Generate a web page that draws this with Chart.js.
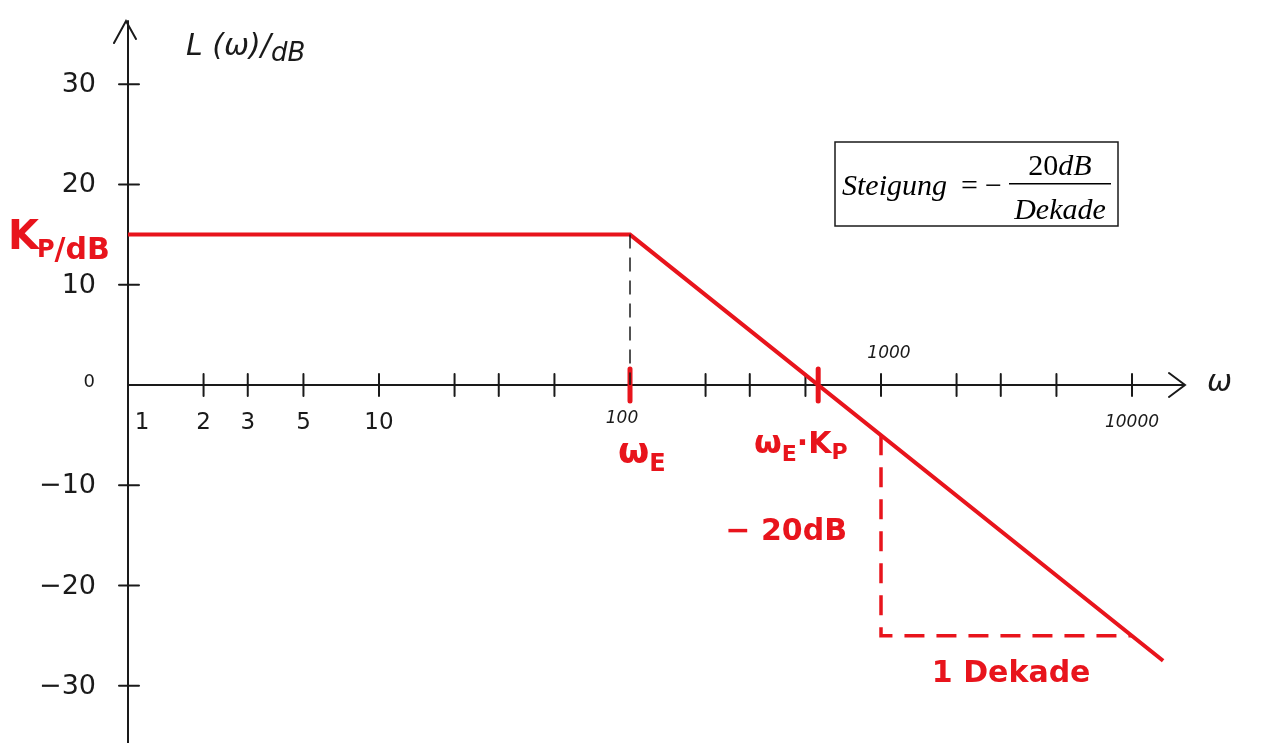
<!DOCTYPE html>
<html>
<head>
<meta charset="utf-8">
<title>Bode-Diagramm PT1</title>
<script src="https://cdn.jsdelivr.net/npm/chart.js@4/dist/chart.umd.min.js"></script>
<style>
  html, body { margin: 0; padding: 0; background: #fff; }
  #wrap { position: relative; width: 1261px; height: 743px; }
</style>
</head>
<body>
<div id="wrap"><canvas id="bode" width="1261" height="743"></canvas></div>
<script>
// Amplitudengang (Asymptoten) eines PT1-Glieds, K_P = 15 dB, w_E = 100
const asymOmega = [1, 100, 13300];
const asymDb = [15, 15, -27.5];

// Steigungsdreieck: 1 Dekade / -20 dB
const triOmega = [1000, 1000, 10000];
const triDb = [-5, -25, -25];

// Hilfslinie bei w_E
const guideOmega = [100, 100];
const guideDb = [15, 0];

// Achsenteilung
const yTicks = [30, 20, 10, -10, -20, -30];
const yTickLabels = ['30', '20', '10', '−10', '−20', '−30'];
const xTicks = [2, 3, 5, 10, 20, 30, 50, 200, 300, 500, 1000, 2000, 3000, 5000, 10000];
const xLabelsSmall = [1, 2, 3, 5, 10];
const xLabelsBig = [100, 1000, 10000];
const markOmega = [100, 562];   // w_E und w_E*K_P

const RED = '#e8141c';
const INK = '#1a1a1a';
const HAND = '"DejaVu Sans", sans-serif';

function pts(xs, ys) {
  return xs.map((x, i) => ({ x, y: ys[i] }));
}

const axesPlugin = {
  id: 'bodeAxes',
  beforeDatasetsDraw(chart) {
    const { ctx, scales: { x, y } } = chart;
    const x0 = x.getPixelForValue(1);
    const y0 = y.getPixelForValue(0);
    const top = chart.chartArea.top;
    const right = chart.chartArea.right;
    ctx.save();
    ctx.strokeStyle = INK;
    ctx.lineWidth = 2;
    ctx.lineCap = 'round';
    // Achsen
    ctx.beginPath();
    ctx.moveTo(x0, chart.height);
    ctx.lineTo(x0, top);
    ctx.moveTo(x0, y0);
    ctx.lineTo(right, y0);
    // Pfeilspitzen
    ctx.moveTo(x0 - 14, top + 22);
    ctx.lineTo(x0 - 2, top);
    ctx.lineTo(x0 + 8, top + 18);
    ctx.moveTo(right - 16, y0 - 12);
    ctx.lineTo(right, y0);
    ctx.lineTo(right - 16, y0 + 12);
    ctx.stroke();

    // y-Striche
    ctx.beginPath();
    yTicks.forEach(v => {
      const py = y.getPixelForValue(v);
      ctx.moveTo(x0 - 9, py);
      ctx.lineTo(x0 + 11, py);
    });
    // x-Striche
    xTicks.forEach(v => {
      const px = x.getPixelForValue(v);
      ctx.moveTo(px, y0 - 11);
      ctx.lineTo(px, y0 + 11);
    });
    ctx.stroke();

    // y-Beschriftung
    ctx.fillStyle = INK;
    ctx.font = `27px ${HAND}`;
    ctx.textAlign = 'right';
    ctx.textBaseline = 'middle';
    yTicks.forEach((v, i) => {
      ctx.fillText(yTickLabels[i], x0 - 32, y.getPixelForValue(v) + 1);
    });
    ctx.font = `18px ${HAND}`;
    ctx.fillText('0', x0 - 33, y0 - 3);

    // x-Beschriftung 1..10
    ctx.font = `23px ${HAND}`;
    ctx.textAlign = 'center';
    xLabelsSmall.forEach(v => {
      const px = x.getPixelForValue(v) + (v === 1 ? 14 : 0);
      ctx.fillText(String(v), px, y0 + 38);
    });
    ctx.font = `italic 17px ${HAND}`;
    ctx.fillText(String(xLabelsBig[0]), x.getPixelForValue(xLabelsBig[0]) - 8, y0 + 34);
    ctx.fillText(String(xLabelsBig[1]), x.getPixelForValue(xLabelsBig[1]) + 8, y0 - 31);
    ctx.fillText(String(xLabelsBig[2]), x.getPixelForValue(xLabelsBig[2]), y0 + 38);
    ctx.font = `italic 30px ${HAND}`;
    ctx.textAlign = 'left';
    ctx.fillText('ω', right + 22, y0 - 2);

    // Achsentitel
    ctx.textBaseline = 'alphabetic';
    ctx.font = `italic 30px ${HAND}`;
    ctx.fillText('L (ω)/', x0 + 58, top + 34);
    let w = ctx.measureText('L (ω)/').width;
    ctx.font = `italic 26px ${HAND}`;
    ctx.fillText('dB', x0 + 58 + w, top + 40);

    // rote Markierungen auf der omega-Achse
    ctx.strokeStyle = RED;
    ctx.lineWidth = 5;
    ctx.beginPath();
    markOmega.forEach(v => {
      const px = x.getPixelForValue(v);
      ctx.moveTo(px, y0 - 16);
      ctx.lineTo(px, y0 + 16);
    });
    ctx.stroke();
    ctx.restore();
  },
  afterDatasetsDraw(chart) {
    const { ctx, scales: { x, y } } = chart;
    ctx.save();
    ctx.fillStyle = RED;
    ctx.textBaseline = 'alphabetic';
    ctx.textAlign = 'left';

    // K_P / dB links an der Achse
    let px = 8, py = y.getPixelForValue(15) + 14;
    ctx.font = `bold 40px ${HAND}`;
    ctx.fillText('K', px, py);
    px += ctx.measureText('K').width - 2;
    ctx.font = `bold 24px ${HAND}`;
    ctx.fillText('P', px, py + 8);
    px += ctx.measureText('P').width;
    ctx.font = `bold 30px ${HAND}`;
    ctx.fillText('/dB', px, py + 10);

    // w_E
    const y0 = y.getPixelForValue(0);
    px = x.getPixelForValue(100) - 12;
    ctx.font = `bold 36px ${HAND}`;
    ctx.fillText('ω', px, y0 + 78);
    px += ctx.measureText('ω').width;
    ctx.font = `bold 24px ${HAND}`;
    ctx.fillText('E', px, y0 + 86);

    // w_E * K_P
    px = x.getPixelForValue(100) + 124;
    ctx.font = `bold 32px ${HAND}`;
    ctx.fillText('ω', px, y0 + 68);
    px += ctx.measureText('ω').width;
    ctx.font = `bold 22px ${HAND}`;
    ctx.fillText('E', px, y0 + 76);
    px += ctx.measureText('E').width;
    ctx.font = `bold 30px ${HAND}`;
    ctx.fillText('·K', px, y0 + 68);
    px += ctx.measureText('·K').width;
    ctx.font = `bold 22px ${HAND}`;
    ctx.fillText('P', px, y0 + 74);

    // Dreiecksbeschriftung
    ctx.font = `bold 30px ${HAND}`;
    ctx.textAlign = 'right';
    ctx.fillText('− 20dB', x.getPixelForValue(1000) - 34, y.getPixelForValue(-15.5));
    ctx.textAlign = 'center';
    ctx.fillText('1 Dekade', x.getPixelForValue(3300), y.getPixelForValue(-29.6));

    // Kasten mit der Steigung
    const bx = 835, by = 142, bw = 283, bh = 84;
    const serif = '"Liberation Serif", serif';
    ctx.strokeStyle = INK;
    ctx.lineWidth = 1.5;
    ctx.strokeRect(bx, by, bw, bh);
    ctx.fillStyle = '#000';
    ctx.textAlign = 'left';
    ctx.font = `italic 30px ${serif}`;
    ctx.fillText('Steigung', bx + 7, by + 53);
    ctx.font = `30px ${serif}`;
    ctx.fillText('=', bx + 126, by + 53);
    ctx.fillText('−', bx + 150, by + 53);
    ctx.fillRect(bx + 174, by + 41, 102, 1.5);
    // Zaehler "20dB": Ziffern aufrecht, Einheit kursiv
    ctx.font = `30px ${serif}`;
    const wNum = ctx.measureText('20').width;
    ctx.font = `italic 30px ${serif}`;
    const wUnit = ctx.measureText('dB').width;
    let nx = bx + 225 - (wNum + wUnit) / 2;
    ctx.font = `30px ${serif}`;
    ctx.fillText('20', nx, by + 33);
    ctx.font = `italic 30px ${serif}`;
    ctx.fillText('dB', nx + wNum, by + 33);
    ctx.textAlign = 'center';
    ctx.fillText('Dekade', bx + 225, by + 77);
    ctx.restore();
  }
};

new Chart(document.getElementById('bode'), {
  type: 'line',
  data: {
    datasets: [
      {
        label: 'Hilfslinie',
        data: pts(guideOmega, guideDb),
        borderColor: INK,
        borderWidth: 1.5,
        borderDash: [14, 9],
        pointRadius: 0
      },
      {
        label: 'Steigungsdreieck',
        data: pts(triOmega, triDb),
        borderColor: RED,
        borderWidth: 3.5,
        borderDash: [20, 12],
        pointRadius: 0
      },
      {
        label: 'L(ω)',
        data: pts(asymOmega, asymDb),
        borderColor: RED,
        borderWidth: 4,
        pointRadius: 0,
        tension: 0
      }
    ]
  },
  options: {
    responsive: false,
    animation: false,
    layout: { padding: { left: 128, right: 76, top: 21, bottom: 0 } },
    plugins: { legend: { display: false }, tooltip: { enabled: false } },
    scales: {
      x: { type: 'logarithmic', min: 1, max: 16260, display: false },
      y: { type: 'linear', min: -35.7, max: 36.3, display: false }
    }
  },
  plugins: [axesPlugin]
});
</script>
</body>
</html>
